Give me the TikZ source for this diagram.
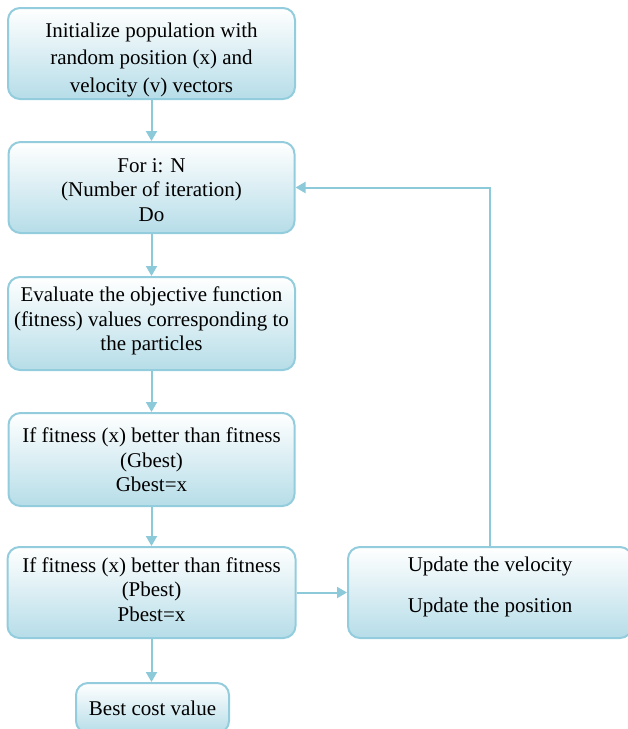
\documentclass[tikz,border=0pt]{standalone}
\usepackage{fontspec}
\setmainfont{Liberation Serif}
\usetikzlibrary{arrows.meta}
\definecolor{bordc}{HTML}{93CDDD}
\definecolor{fillb}{HTML}{B6DDE8}
\definecolor{arrc}{HTML}{8DCAD9}
\tikzset{
  boxfont/.style={font=\fontsize{21}{24.5}\selectfont, align=center, inner sep=0pt},
  flowbox/.style={draw=bordc, line width=2pt, rounded corners=12pt,
    top color=white, bottom color=fillb, inner sep=0pt},
  conn/.style={draw=arrc, line width=2pt, -{Triangle[length=10pt,width=11pt]}}
}
\begin{document}
\begin{tikzpicture}[x=1pt,y=-1pt]
\useasboundingbox (0,0) rectangle (628,729);
\node[flowbox, minimum width=287pt, minimum height=91pt] (b1) at (151.5,53.5) {};
\node[boxfont] (b1t) at (151.5,59.5)
  {Initialize population with\\[3pt] random position (x) and\\[3pt] velocity (v) vectors};
\node[flowbox, minimum width=286pt, minimum height=91pt] (b2) at (151.5,187.5) {};
\node[boxfont] (b2t) at (151.5,190)
  {For i: N\\ (Number of iteration)\\ Do};
\node[flowbox, minimum width=287pt, minimum height=93pt] (b3) at (151.5,323.5) {};
\node[boxfont] (b3t) at (151.5,321)
  {Evaluate the objective function\\ (fitness) values corresponding to\\ the particles};
\node[flowbox, minimum width=286pt, minimum height=93pt] (b4) at (151.5,459.5) {};
\node[boxfont] (b4t) at (151.5,460)
  {If fitness (x) better than fitness\\ (Gbest)\\ Gbest=x};
\node[flowbox, minimum width=288pt, minimum height=91pt] (b5) at (151.5,592.5) {};
\node[boxfont] (b5t) at (151.5,589.5)
  {If fitness (x) better than fitness\\ (Pbest)\\ Pbest=x};
\node[flowbox, minimum width=284pt, minimum height=91pt] (b6) at (490,592.5) {};
\node[boxfont] (t6a) at (490,566) {Update the velocity};
\node[boxfont] (t6b) at (490,607.5) {Update the position};
\node[flowbox, minimum width=153pt, minimum height=50pt] (b7) at (152.5,708) {};
\node[boxfont] (b7t) at (152.5,708) {Best cost value};
\draw[conn] (b1.south) -- (b2.north);
\draw[conn] (b2.south) -- (b3.north);
\draw[conn] (b3.south) -- (b4.north);
\draw[conn] (b4.south) -- (b5.north);
\draw[conn] (b5.south) -- (b5.south |- b7.north);
\draw[conn] (b5.east) -- (b6.west);
\draw[conn] (b6.north) |- (b2.east);
\end{tikzpicture}
\end{document}
